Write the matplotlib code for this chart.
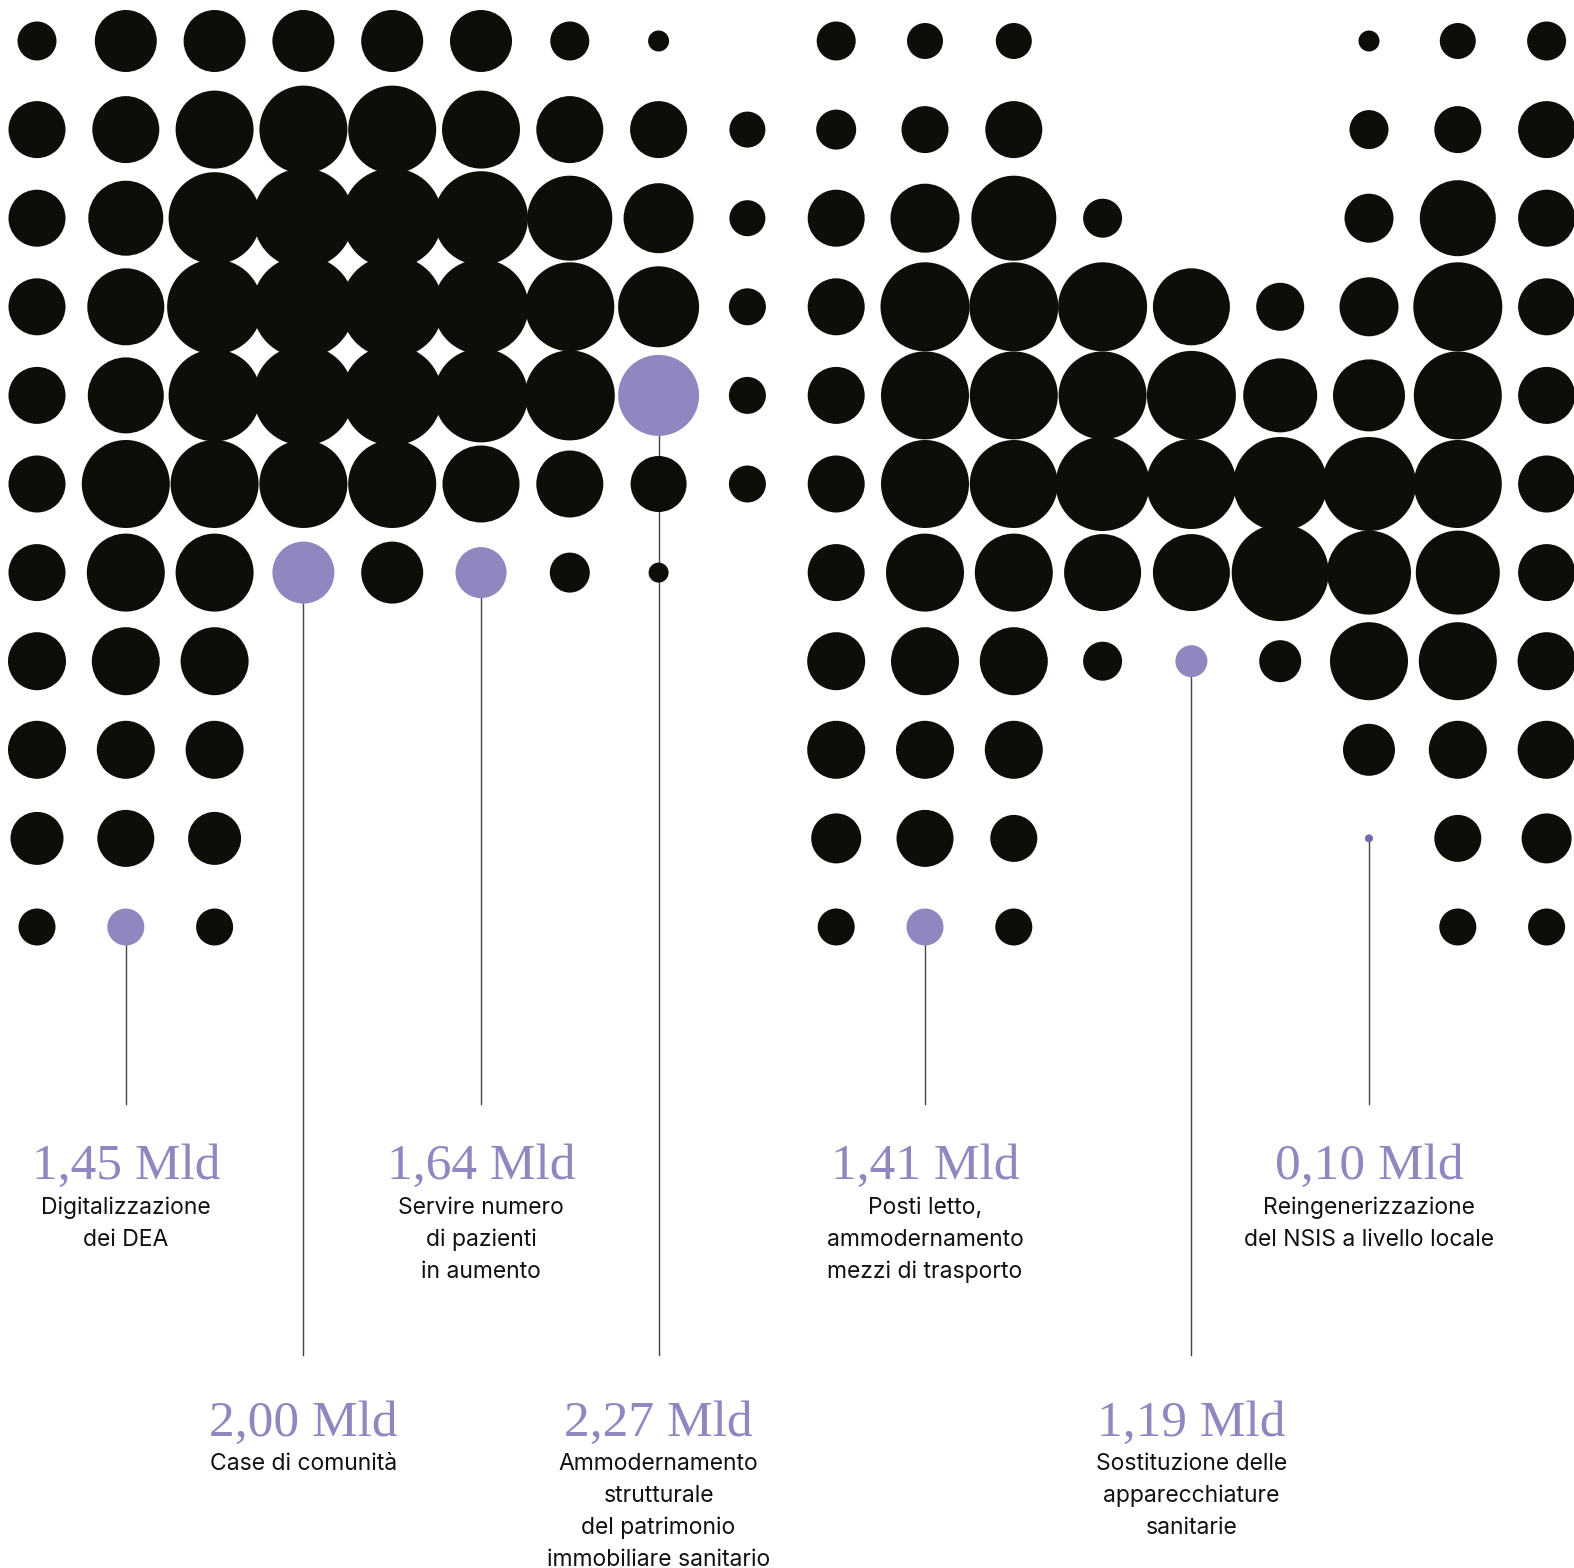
import numpy as np
import matplotlib.pyplot as plt

# dot diameters in px, one list per row (0 = no dot)
dot_rows = [
    [39, 62, 62, 62, 62, 62, 39, 21, 0, 39, 36, 36, 0, 0, 0, 21, 36, 39],
    [57, 67, 78, 88, 88, 78, 67, 57, 36, 40, 47, 57, 0, 0, 0, 39, 47, 57],
    [57, 75, 92, 100, 100, 94, 85, 70, 36, 57, 69, 85, 39, 0, 0, 49, 76, 57],
    [57, 77, 95, 102, 102, 95, 89, 81, 37, 57, 89, 89, 89, 77, 48, 59, 89, 57],
    [57, 76, 92, 100, 100, 94, 90, 81, 37, 57, 88, 88, 88, 89, 74, 72, 88, 57],
    [57, 88, 88, 88, 88, 77, 67, 56, 37, 57, 88, 88, 94, 90, 94, 94, 88, 57],
    [57, 78, 78, 62, 62, 51, 40, 20, 0, 57, 78, 78, 77, 77, 97, 84, 84, 57],
    [58, 68, 68, 0, 0, 0, 0, 0, 0, 58, 68, 68, 39, 32, 42, 78, 78, 58],
    [58, 58, 58, 0, 0, 0, 0, 0, 0, 58, 58, 58, 0, 0, 0, 52, 58, 58],
    [53, 57, 53, 0, 0, 0, 0, 0, 0, 50, 57, 47, 0, 0, 0, 8, 47, 50],
    [37, 37, 37, 0, 0, 0, 0, 0, 0, 37, 37, 37, 0, 0, 0, 0, 37, 37],
]

# highlighted dots (row, col) with their labels
hl_rows = [10, 6, 6, 4, 10, 7, 9]
hl_cols = [1, 3, 5, 7, 10, 13, 15]
hl_tier = [0, 1, 0, 1, 0, 1, 0]   # 0 = upper label row, 1 = lower
hl_values = ["1,45 Mld", "2,00 Mld", "1,64 Mld", "2,27 Mld", "1,41 Mld", "1,19 Mld", "0,10 Mld"]
hl_texts = [
    ["Digitalizzazione", "dei DEA"],
    ["Case di comunità"],
    ["Servire numero", "di pazienti", "in aumento"],
    ["Ammodernamento", "strutturale", "del patrimonio", "immobiliare sanitario"],
    ["Posti letto,", "ammodernamento", "mezzi di trasporto"],
    ["Sostituzione delle", "apparecchiature", "sanitarie"],
    ["Reingenerizzazione", "del NSIS a livello locale"],
]

BLACK = "#0f0d08"
PURPLE = "#8f87bf"
TINY = "#7468ae"

W, H = 1574, 1568
fig = plt.figure(figsize=(W / 100, H / 100), dpi=100)
ax = fig.add_axes([0, 0, 1, 1])
dx, dy = 88.8, 88.6   # px per grid step
ax.set_xlim(-37 / dx, (W - 37) / dx)
ax.set_ylim((H - 41) / dy, -41 / dy)
ax.axis("off")

sizes = np.array(dot_rows, dtype=float)
rr, cc = np.nonzero(sizes)
colors = [BLACK] * len(rr)
for k, (r, c) in enumerate(zip(rr, cc)):
    if (r, c) in zip(hl_rows, hl_cols):
        colors[k] = TINY if sizes[r, c] < 15 else PURPLE
# diameter px -> points (dpi 100)
ax.scatter(cc, rr, s=(sizes[rr, cc] * 0.72) ** 2, c=colors, linewidths=0, zorder=2)

# connector lines and labels
line_end = [12.0, 14.83]
val_y = [12.71, 15.61]
txt_y = [13.17, 16.06]
step = 0.362
for r, c, t, v, lines in zip(hl_rows, hl_cols, hl_tier, hl_values, hl_texts):
    ax.plot([c, c], [r, line_end[t]], color="#444444", lw=1.0, zorder=1)
    ax.text(c, val_y[t], v, ha="center", va="center", color=PURPLE,
            family="Liberation Serif", fontsize=37)
    for i, s in enumerate(lines):
        ax.text(c, txt_y[t] + i * step, s, ha="center", va="center",
                color="#111111", family="Inter", fontsize=16.5)

fig.savefig("out.png", dpi=100, facecolor="white")
